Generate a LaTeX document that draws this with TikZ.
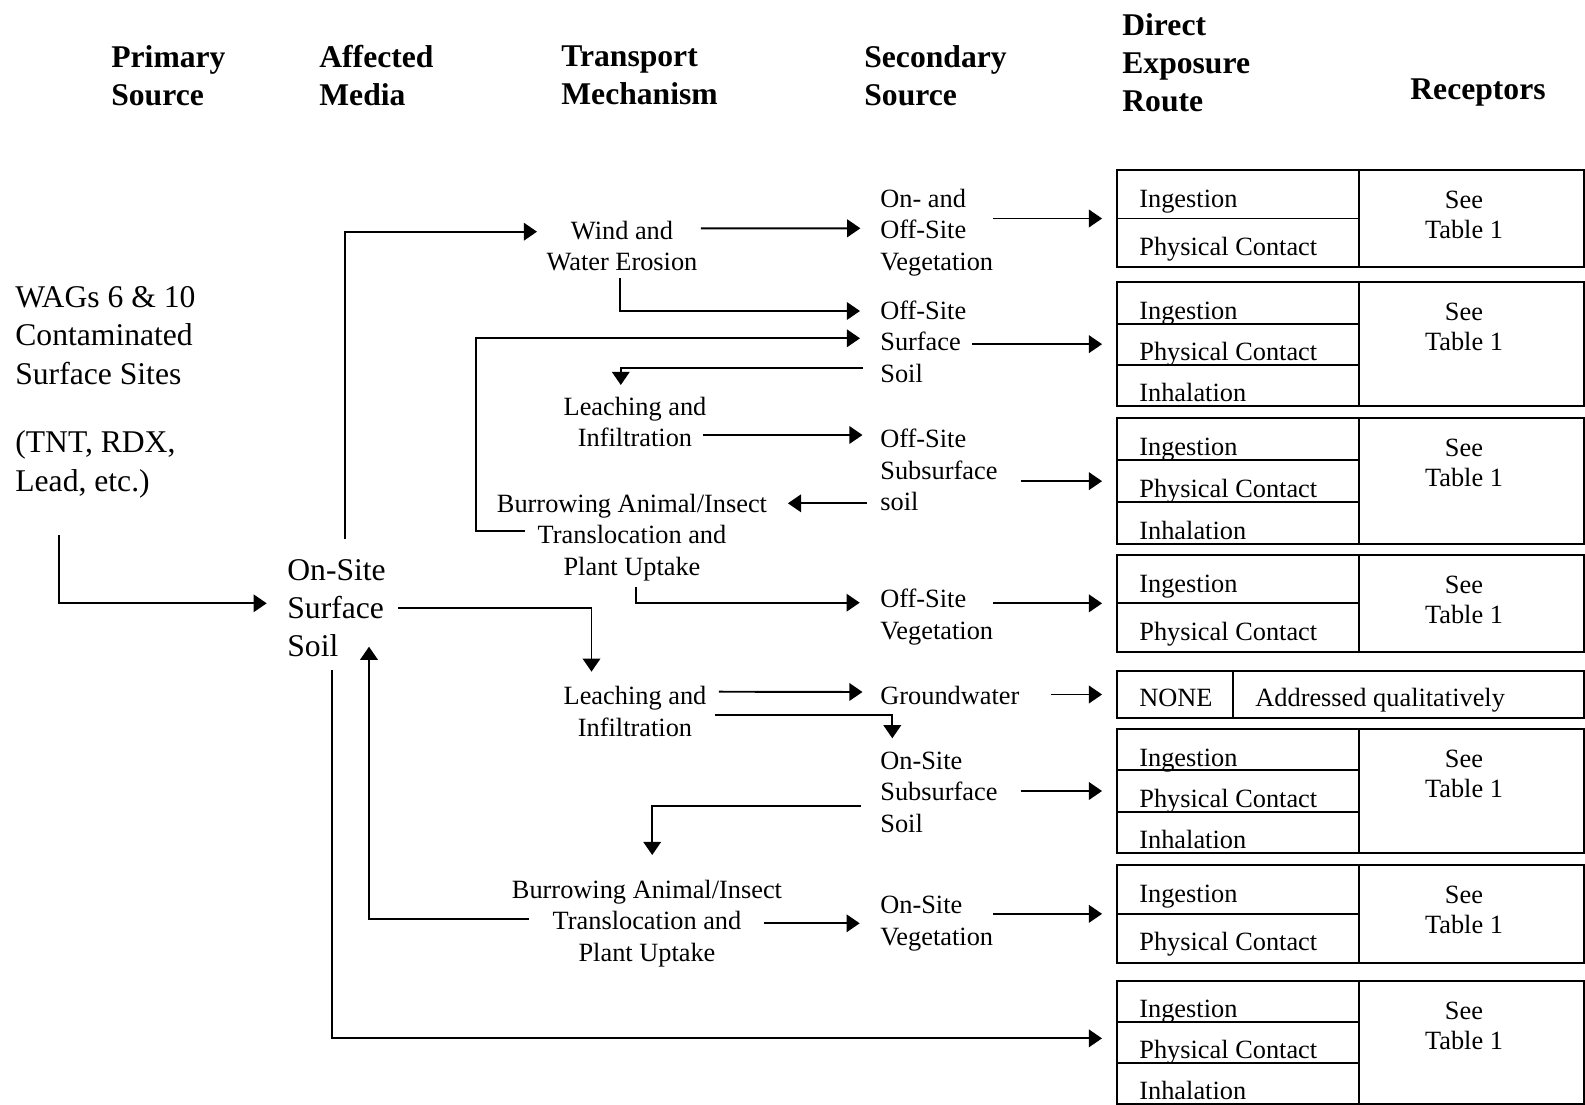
\documentclass[tikz,border=0pt]{standalone}
\usepackage{fontspec}
\setmainfont{Liberation Serif}
\usetikzlibrary{arrows.meta,calc}
\tikzset{
  txt/.style={inner sep=0pt,align=center,font=\fontsize{15}{18}\selectfont},
  sec/.style={txt,align=left,anchor=west},
  big/.style={inner sep=0pt,align=left,anchor=west,font=\fontsize{18}{21.8}\selectfont},
  head/.style={big,font=\fontsize{18}{21.5}\selectfont\bfseries},
  rbox/.style={draw,line width=1.1pt,minimum width=9.34cm,inner sep=0pt,outer sep=0pt,anchor=north west},
  rline/.style={line width=1.1pt},
  rtxt/.style={inner sep=0pt,anchor=base west,font=\fontsize{15}{17}\selectfont},
  see/.style={inner sep=0pt,align=center,font=\fontsize{15}{17}\selectfont},
  arr/.style={-{Triangle[length=7.5pt,width=10pt]},line width=1.1pt},
  toroute/.style={arr,shorten >=8.5pt},
}
\begin{document}
\begin{tikzpicture}[x=0.02cm,y=-0.02cm]
  \useasboundingbox (0,0) rectangle (1585,1105);
  % column headings
  \node[head] (hprim) at (111,75.5) {Primary\\Source};
  \node[head] (haff) at (319,75.5) {Affected\\Media};
  \node[head] (htrans) at (561,75.5) {Transport\\Mechanism};
  \node[head] (hsec) at (864,75.5) {Secondary\\Source};
  \node[head] (hroute) at (1122,62.5) {Direct\\Exposure\\Route};
  \node[head,anchor=center] (hrec) at (1478,93) {Receptors};
  % sources and media
  \node[big] (wags) at (15,335.5) {WAGs 6 \& 10\\Contaminated\\Surface Sites};
  \node[big] (tnt) at (15,464.5) {(TNT, RDX,\\Lead, etc.)};
  \node[big] (onsoil) at (287,608) {On-Site\\Surface\\Soil};
  % transport mechanisms
  \node[txt] (wind) at (622,246) {Wind and\\Water Erosion};
  \node[txt] (leach1) at (635,422) {Leaching and\\Infiltration};
  \node[txt] (burrow1) at (632,537.5) {Burrowing Animal/Insect\\Translocation and\\Plant Uptake};
  \node[txt] (leach2) at (635,711.5) {Leaching and\\Infiltration};
  \node[txt] (burrow2) at (647,923.5) {Burrowing Animal/Insect\\Translocation and\\Plant Uptake};
  % secondary sources
  \node[sec] (veg1) at (880,232.5) {On- and\\Off-Site\\Vegetation};
  \node[sec] (ssoil) at (880,341.8) {Off-Site\\Surface\\Soil};
  \node[sec] (subsoil1) at (880,470) {Off-Site\\Subsurface\\soil};
  \node[sec] (veg2) at (880,617) {Off-Site\\Vegetation};
  \node[sec] (gw) at (880,695) {Groundwater};
  \node[sec] (subsoil2) at (880,792.1) {On-Site\\Subsurface\\Soil};
  \node[sec] (veg3) at (880,923.6) {On-Site\\Vegetation};
  % exposure route boxes, two rows
  \foreach \n/\t/\b in {1/170/267,4/555/651.7,7/865/962.7}{
    \pgfmathsetmacro\h{(\b-\t)*0.02}
    \node[rbox,minimum height=\h cm] (box\n) at (1117,\t) {};
    \draw[rline] (box\n.west) -- ++(242,0);
    \draw[rline] ($(box\n.north west)+(242,0)$) -- ($(box\n.south west)+(242,0)$);
    \node[rtxt] (ing\n) at ($(box\n.north west)+(22,37)$) {Ingestion};
    \node[rtxt] (pc\n) at ($(box\n.west)+(22,37)$) {Physical Contact};
    \node[see] (see\n) at ($(box\n.north west)+(347,45)$) {See\\Table 1};
  }
  % exposure route boxes, three rows
  \foreach \n/\t/\b in {2/282.3/406,3/418.3/544,6/729.3/852.7,8/980.7/1104}{
    \pgfmathsetmacro\h{(\b-\t)*0.02}
    \node[rbox,minimum height=\h cm] (box\n) at (1117,\t) {};
    \draw[rline] ($(box\n.north west)!1/3!(box\n.south west)$) coordinate (ra\n) -- ++(242,0);
    \draw[rline] ($(box\n.north west)!2/3!(box\n.south west)$) coordinate (rb\n) -- ++(242,0);
    \draw[rline] ($(box\n.north west)+(242,0)$) -- ($(box\n.south west)+(242,0)$);
    \node[rtxt] (ing\n) at ($(box\n.north west)+(22,37)$) {Ingestion};
    \node[rtxt] (pc\n) at ($(ra\n)+(22,37)$) {Physical Contact};
    \node[rtxt] (inh\n) at ($(rb\n)+(22,37)$) {Inhalation};
    \node[see] (see\n) at ($(box\n.north west)+(347,45)$) {See\\Table 1};
  }
  % groundwater box
  \node[rbox,minimum height=0.952cm] (box5) at (1117,670.7) {};
  \draw[rline] ($(box5.north west)+(116,0)$) -- ($(box5.south west)+(116,0)$);
  \node[rtxt] (none) at ($(box5.north west)+(22,36)$) {NONE};
  \node[rtxt] (addr) at ($(box5.north west)+(138,36)$) {Addressed qualitatively};
  % source to media
  \draw[arr] ($(tnt.west)+(44.3,70.5)$) |- ($(onsoil.west)+(-20.3,-4.7)$);
  % transport
  \draw[arr] ($(onsoil.west)+(58,-68.7)$) |- ($(wind)+(-85,-14.3)$);
  \draw[arr] ($(wind)+(78.8,-17.7)$) -- ($(veg1.west)+(-19.6,-4.2)$);
  \draw[arr] ($(wind)+(-2,32)$) |- ($(ssoil.west)+(-20,-30.8)$);
  \draw[arr] ($(burrow1)+(-107.4,-6.8)$) -| ($(ssoil.west)+(-404,-3.5)$) -- ($(ssoil.west)+(-20,-3.5)$);
  \draw[arr] ($(ssoil.west)+(-17.5,25.9)$) -| ($(leach1)+(-14.2,-37)$);
  \draw[arr] ($(leach1)+(68,13)$) -- ($(subsoil1.west)+(-17.5,-35)$);
  \draw[arr] ($(subsoil1.west)+(-13.3,33.3)$) -- ($(burrow1)+(155.9,-34.2)$);
  \draw[arr] ($(burrow1)+(4,49.2)$) |- ($(veg2.west)+(-20.3,-14.3)$);
  \draw[arr] ($(onsoil.west)+(111.3,0.3)$) -| ($(leach2)+(-43.5,-39.8)$);
  \draw[arr] ($(leach2)+(83.8,-19.8)$) -- ($(gw.west)+(-17.5,-3)$);
  \draw[arr] ($(leach2)+(80,3.5)$) -| ($(subsoil2.west)+(12.3,-53.8)$);
  \draw[arr] ($(subsoil2.west)+(-18.6,13.9)$) -| ($(burrow2)+(5.2,-68.5)$);
  \draw[arr] ($(burrow2)+(116.8,-0.2)$) -- ($(veg3.west)+(-20.3,-0.3)$);
  \draw[arr] ($(burrow2)+(-118,-4.5)$) -| ($(onsoil.west)+(82,38.7)$);
  \draw[arr] ($(onsoil.west)+(44.7,62)$) |- ($(box8.west)+(-15,-4)$);
  % exposure routes
  \draw[toroute] (box1.west -| veg1.east) -- (box1.west);
  \draw[toroute,shorten <=3pt] (box2.west -| ssoil.east) -- (box2.west);
  \draw[toroute,shorten <=13pt] (box3.west -| subsoil1.east) -- (box3.west);
  \draw[toroute] (box4.west -| veg2.east) -- (box4.west);
  \draw[toroute,shorten <=18pt] (box5.west -| gw.east) -- (box5.west);
  \draw[toroute,shorten <=13pt] (box6.west -| subsoil2.east) -- (box6.west);
  \draw[toroute] (box7.west -| veg3.east) -- (box7.west);
\end{tikzpicture}
\end{document}
